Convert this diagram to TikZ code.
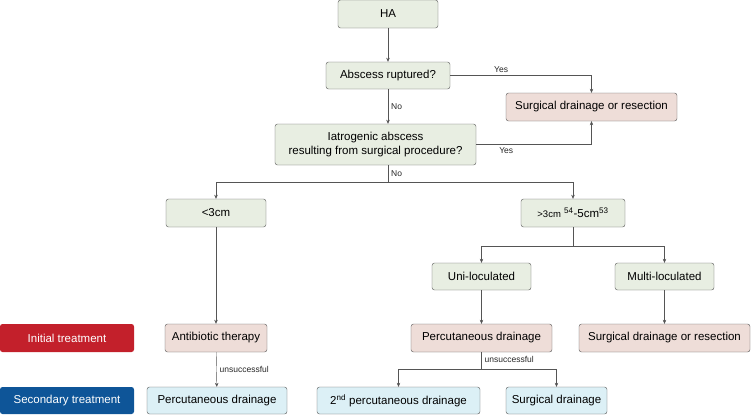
\documentclass[tikz,border=0pt]{standalone}
\usepackage{fontspec}
\setmainfont{Liberation Sans}
\usetikzlibrary{positioning,arrows.meta}
\definecolor{qgreen}{HTML}{E8EEE2}
\definecolor{qpink}{HTML}{EEDDD8}
\definecolor{qblue}{HTML}{DCF0F6}
\definecolor{qred}{HTML}{C3202B}
\definecolor{qnavy}{HTML}{0E5598}
\definecolor{qline}{HTML}{555555}
\tikzstyle{box}      = [draw=qline, rounded corners=2.5pt, minimum height=28pt, inner sep=2pt, align=center, font=\fontsize{11.5}{14}\selectfont]
\tikzstyle{question} = [box, fill=qgreen]
\tikzstyle{treat}    = [box, fill=qpink]
\tikzstyle{second}   = [box, fill=qblue]
\tikzstyle{legend}   = [rounded corners=2.5pt, minimum width=134pt, minimum height=28pt, text=white, font=\fontsize{11.5}{14}\selectfont]
\tikzstyle{arrow}    = [qline, ->, >={Stealth[length=4pt,width=3.5pt]}]
\tikzstyle{lbl}      = [text=black!85, font=\fontsize{8.5}{10}\selectfont, inner sep=3pt]

\begin{document}
\begin{tikzpicture}[x=1pt,y=-1pt]
		\useasboundingbox (0,0) rectangle (751,415);

		% questions
		\node[question, minimum width=100pt] (ha) at (388,14) {HA};
		\node[question, minimum width=124pt, minimum height=27pt] (ask) at (388,75.5) {Abscess ruptured?};
		\node[treat, minimum width=171pt] (surg1) at (591.5,107) {Surgical drainage or resection};
		\node[question, minimum width=201pt, minimum height=41pt] (iatro) at (375.5,144.5) {Iatrogenic abscess\\resulting from surgical procedure?};
		\node[question, minimum width=100pt] (small) at (216,213) {<3cm};
		\node[question, minimum width=104pt] (large) at (573,213) {{\fontsize{9.5}{11}\selectfont >3cm} \textsuperscript{54}-5cm\textsuperscript{53}};
		\node[question, minimum width=99pt, minimum height=27pt] (uni) at (481.5,276.5) {Uni-loculated};
		\node[question, minimum width=99pt, minimum height=27pt] (multi) at (664.5,276.5) {Multi-loculated};

		% initial treatment
		\node[legend, fill=qred] (init) at (67,338) {Initial treatment};
		\node[treat, minimum width=102pt] (anti) at (216,338) {Antibiotic therapy};
		\node[treat, minimum width=141pt] (perc) at (481.5,338) {Percutaneous drainage};
		\node[treat, minimum width=171pt] (surg2) at (664.5,338) {Surgical drainage or resection};

		% secondary treatment
		\node[legend, fill=qnavy, minimum height=27pt] (sec) at (67,400.5) {Secondary treatment};
		\node[second, minimum width=140pt, minimum height=27pt] (perc2) at (217,400.5) {Percutaneous drainage};
		\node[second, minimum width=163pt, minimum height=27pt] (nd) at (398.5,400.5) {2\textsuperscript{nd} percutaneous drainage};
		\node[second, minimum width=101pt, minimum height=27pt] (sdrain) at (556.5,400.5) {Surgical drainage};

		\coordinate (split1) at (388,182);
		\coordinate (split2) at (573,246);
		\coordinate (split3) at (481.5,369);

		\draw[arrow] (ha) -- (ask);
		\draw[arrow] (ask) -- node[lbl,right]{No} (ask.south |- iatro.north);
		\draw[arrow] (ask.east) -| node[lbl,above,pos=0.18]{Yes} (surg1.north);
		\draw[arrow] (iatro.east) -| node[lbl,below,pos=0.13]{Yes} (surg1.south);
		\draw[qline] (split1 |- iatro.south) -- node[lbl,right]{No} (split1);
		\draw[arrow] (split1) -| (small);
		\draw[arrow] (split1) -| (large);
		\draw[qline] (large) -- (split2);
		\draw[arrow] (split2) -| (uni);
		\draw[arrow] (split2) -| (multi);
		\draw[arrow] (small) -- (anti);
		\draw[arrow] (uni) -- (perc);
		\draw[arrow] (multi) -- (surg2);
		\draw[arrow] (anti) -- node[lbl,right]{unsuccessful} (perc2);
		\draw[qline] (perc) -- node[lbl,right,pos=0.45]{unsuccessful} (split3);
		\draw[arrow] (split3) -| (nd);
		\draw[arrow] (split3) -| (sdrain);
	\end{tikzpicture}
\end{document}
